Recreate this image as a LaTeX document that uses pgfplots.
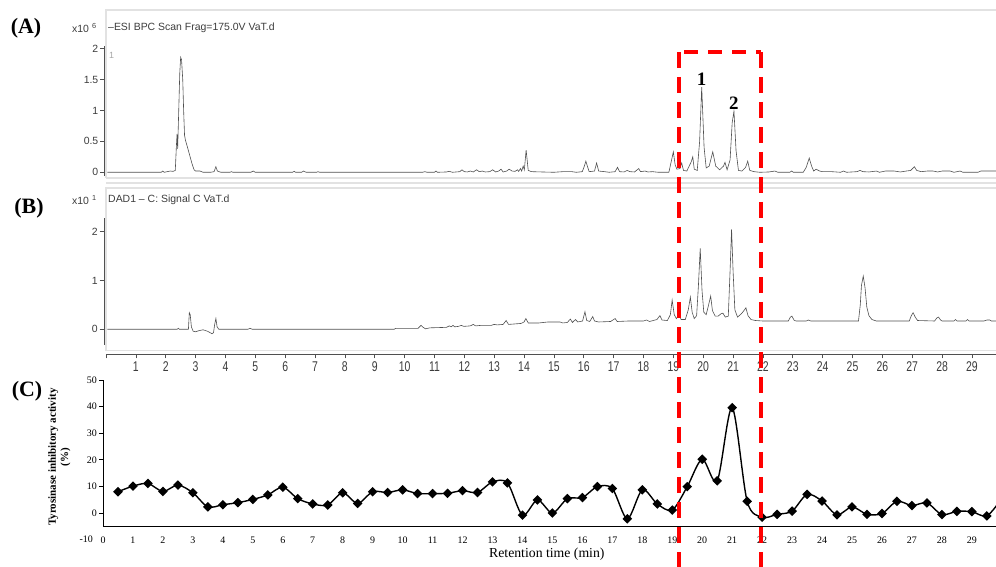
\documentclass[border=0pt]{standalone}
\usepackage{fontspec}
\setmainfont{Liberation Serif}
\setsansfont{Liberation Sans}
\usepackage{pgfplots}
\pgfplotsset{compat=1.18}
\definecolor{tg}{HTML}{3C3C3C}
\definecolor{trace}{HTML}{505050}
\definecolor{framec}{HTML}{E2E2E2}
\definecolor{boxred}{HTML}{FF0000}

\begin{document}
\begin{tikzpicture}[x=1bp,y=1bp]
\path[use as bounding box] (0,0) rectangle (996,567);

% light instrument frames
\draw[framec, line width=1.6bp] (106,389) -- (106,557) -- (997,557);
\draw[framec, line width=1.6bp] (106,389) -- (997,389);
\draw[framec, line width=1.6bp] (106,384) -- (997,384);
\draw[framec, line width=1.6bp] (106,216) -- (106,379) -- (997,379);
\draw[framec, line width=1.6bp] (106,216.5) -- (997,216.5);

% headers
\node[anchor=west, inner sep=0, text=tg, font=\fontsize{10.5}{12}\sffamily] at (72,539) {x10\hspace{3bp}\textsuperscript{6}};
\node[anchor=west, inner sep=0, text=tg, font=\fontsize{10.5}{12}\sffamily] at (108,539) {--ESI BPC Scan Frag=175.0V VaT.d};
\node[anchor=west, inner sep=0, text=tg, font=\fontsize{10.5}{12}\sffamily] at (72,367) {x10\hspace{3bp}\textsuperscript{1}};
\node[anchor=west, inner sep=0, text=tg, font=\fontsize{10.5}{12}\sffamily] at (108,367) {DAD1 -- C: Signal C VaT.d};
\node[anchor=west, inner sep=0, text=gray!70, font=\fontsize{9}{10}\sffamily] at (109,512) {1};

% panel letters
\node[font=\bfseries\fontsize{22}{24}\selectfont] at (26,539) {(A)};
\node[font=\bfseries\fontsize{22}{24}\selectfont] at (29,359) {(B)};
\node[font=\bfseries\fontsize{22}{24}\selectfont] at (27,176) {(C)};

% ---------------- Panel A ----------------
\begin{axis}[
  at={(104bp,391bp)}, anchor=south west, scale only axis,
  width=892bp, height=130bp,
  xmin=-0.067, xmax=29.806, ymin=-0.06, ymax=2.044,
  axis x line=none, axis y line*=left,
  y axis line style={-, trace, line width=0.8bp},
  ytick={0,0.5,1,1.5,2}, yticklabels={0,0.5,1,1.5,2},
  tick align=outside, major tick length=4bp,
  tick style={trace, line width=0.6bp},
  yticklabel style={font=\fontsize{10.5}{12}\sffamily, text=tg, inner sep=1.5bp},
]
\addplot[trace, line width=0.6bp] coordinates {
(0.05,0) (1.85,0) (1.9,0.02) (1.95,0) (2.05,0.01) (2.15,0.02) (2.25,0.015) (2.32,0.03)
(2.36,0.45) (2.38,0.62) (2.40,0.38) (2.43,0.9) (2.47,1.6) (2.50,1.86) (2.53,1.82) (2.57,1.5)
(2.60,1.0) (2.63,0.6) (2.66,0.52) (2.72,0.42) (2.8,0.28) (2.88,0.14) (2.95,0.04) (3.0,0.02)
(3.15,0.02) (3.25,0.0) (3.5,0.0) (3.62,0.01) (3.68,0.09) (3.73,0.02) (3.85,0.0) (4.15,0.0)
(4.2,0.01) (4.25,0) (4.85,0) (4.93,0.02) (5.0,0) (6.25,0) (6.3,0.015) (6.35,0) (6.55,0)
(6.62,0.02) (6.7,0) (7.05,0) (7.1,0.01) (7.15,0) (10.6,0) (10.68,0.01) (10.75,0) (11.0,0)
(11.05,0.02) (11.1,0) (11.4,0.005) (11.5,0.015) (11.6,0) (11.85,0.01) (11.92,0.04) (12.0,0.01)
(12.1,0.005) (12.2,0.02) (12.3,0.005) (12.41,0.04) (12.5,0.01) (12.6,0.02) (12.7,0.005)
(12.85,0.01) (12.95,0.04) (13.05,0.005) (13.15,0.02) (13.23,0.05) (13.3,0.005) (13.42,0.02)
(13.5,0.05) (13.6,0.02) (13.7,0.015) (13.78,0.04) (13.82,0.015) (13.88,0.06) (13.92,0.02)
(13.97,0.1) (14.01,0.04) (14.07,0.36) (14.14,0.03) (14.25,0.01) (14.6,0.005) (15.0,0.0)
(15.3,0.01) (15.6,0.01) (15.75,0.0) (15.95,0.01) (16.02,0.1) (16.07,0.18) (16.12,0.1)
(16.18,0.01) (16.36,0.02) (16.43,0.15) (16.5,0.02) (16.7,0.01) (16.85,0.0) (17.05,0.01)
(17.13,0.08) (17.2,0.01) (17.35,0.005) (17.45,0.03) (17.55,0.01) (17.7,0.005) (17.84,0.06)
(17.9,0.01) (18.05,0.02) (18.15,0.005) (18.3,0.01) (18.5,0.0) (18.85,0.0) (18.95,0.22)
(19.0,0.33) (19.06,0.12) (19.12,0.05) (19.22,0.06) (19.28,0.15) (19.34,0.03) (19.45,0.02)
(19.6,0.17) (19.65,0.25) (19.7,0.05) (19.8,0.03) (19.88,0.5) (19.95,1.38) (20.03,0.4)
(20.1,0.07) (20.2,0.1) (20.32,0.33) (20.42,0.1) (20.55,0.04) (20.68,0.1) (20.73,0.16)
(20.8,0.04) (20.9,0.2) (20.97,0.8) (21.03,0.99) (21.1,0.35) (21.18,0.03) (21.3,0.02)
(21.42,0.08) (21.49,0.18) (21.56,0.03) (21.7,0.01) (21.9,0.0) (22.2,0.005) (22.4,0.02)
(22.5,0.0) (22.9,0.0) (22.96,0.02) (23.02,0.0) (23.35,0.0) (23.45,0.08) (23.55,0.23) (23.63,0.1)
(23.7,0.02) (23.78,0.05) (23.9,0.02) (24.0,0.01) (24.3,0.01) (24.6,0.0) (24.7,0.02) (24.8,0.0)
(25.15,0.01) (25.25,0.03) (25.35,0.01) (25.55,0.005) (25.8,0.02) (25.9,0.0) (26.1,0.02)
(26.4,0.02) (26.6,0.005) (26.8,0.02) (26.95,0.03) (27.07,0.09) (27.15,0.03) (27.3,0.01)
(27.5,0.02) (27.7,0.02) (27.85,0.005) (28.0,0.02) (28.27,0.02) (28.4,0.0) (28.6,0.02)
(28.7,0.0) (29.2,0.0) (29.3,0.02) (29.8,0.02)
};
\node[font=\bfseries\fontsize{19}{20}\selectfont, anchor=south, inner sep=1.5bp] at (axis cs:19.95,1.38) {1};
\node[font=\bfseries\fontsize{19}{20}\selectfont, anchor=south, inner sep=1.5bp] at (axis cs:21.03,0.99) {2};
\end{axis}

% ---------------- Panel B ----------------
\begin{axis}[
  at={(104bp,213bp)}, anchor=south west, scale only axis,
  width=892bp, height=136bp,
  xmin=-0.067, xmax=29.806, ymin=-0.506, ymax=2.281,
  axis x line*=bottom, axis y line*=left,
  hide obscured x ticks=false, hide obscured y ticks=false,
  x axis line style={-, trace, line width=0.8bp, shorten <=2bp},
  y axis line style={-, trace, line width=0.8bp, shorten <=9bp},
  xtick={0,1,...,29},
  xticklabels={,1,2,3,4,5,6,7,8,9,10,11,12,13,14,15,16,17,18,19,20,21,22,23,24,25,26,27,28,29},
  ytick={0,1,2}, yticklabels={0,1,2},
  tick align=outside, major tick length=4.5bp,
  tick style={trace, line width=0.6bp},
  tick label style={font=\fontsize{10.5}{12}\sffamily, text=tg},
  xticklabel style={yscale=1.35, inner sep=2bp},
  yticklabel style={inner sep=1.5bp},
]
\addplot[trace, line width=0.6bp] coordinates {
(0.05,0) (2.38,0) (2.42,0.02) (2.46,0) (2.76,0) (2.79,0.34) (2.82,0.3) (2.86,0.05) (2.92,-0.04)
(3.0,-0.05) (3.1,-0.03) (3.25,-0.01) (3.4,-0.04) (3.55,-0.09) (3.6,-0.07) (3.64,0.1) (3.68,0.22)
(3.72,0.05) (3.78,0.0) (4.75,0) (4.82,0.02) (4.9,0) (9.65,0) (9.7,0.02) (10.45,0.02) (10.55,0.08)
(10.62,0.04) (10.7,0.01) (10.85,0.03) (11.4,0.04) (11.5,0.07) (11.56,0.05) (11.62,0.08)
(11.68,0.05) (11.8,0.06) (11.9,0.08) (11.98,0.06) (12.2,0.07) (12.3,0.1) (12.38,0.07)
(12.55,0.08) (12.9,0.08) (13.0,0.1) (13.1,0.09) (13.3,0.1) (13.4,0.18) (13.48,0.1) (13.9,0.12)
(14.0,0.15) (14.06,0.22) (14.14,0.13) (14.5,0.13) (14.8,0.15) (15.2,0.15) (15.3,0.13)
(15.45,0.14) (15.55,0.21) (15.62,0.14) (15.72,0.2) (15.8,0.15) (15.96,0.17) (16.04,0.36)
(16.1,0.18) (16.2,0.16) (16.3,0.26) (16.36,0.17) (16.5,0.15) (16.9,0.16) (17.05,0.22)
(17.12,0.16) (17.5,0.17) (18.0,0.17) (18.1,0.19) (18.2,0.16) (18.45,0.2) (18.55,0.28)
(18.62,0.19) (18.8,0.18) (18.9,0.3) (18.96,0.6) (19.03,0.3) (19.1,0.22) (19.2,0.3) (19.26,0.2)
(19.4,0.2) (19.5,0.4) (19.57,0.66) (19.63,0.35) (19.7,0.22) (19.78,0.28) (19.84,0.9) (19.9,1.66)
(19.96,0.8) (20.02,0.35) (20.1,0.3) (20.2,0.55) (20.25,0.68) (20.31,0.38) (20.4,0.27) (20.5,0.27)
(20.6,0.32) (20.66,0.33) (20.74,0.25) (20.84,0.27) (20.9,1.2) (20.95,2.05) (21.0,1.2) (21.06,0.4)
(21.15,0.25) (21.28,0.32) (21.36,0.38) (21.43,0.44) (21.5,0.28) (21.6,0.2) (21.75,0.18)
(22.0,0.17) (22.85,0.17) (22.92,0.25) (22.97,0.27) (23.05,0.18) (23.12,0.17) (23.45,0.17)
(23.52,0.19) (23.6,0.17) (25.2,0.17) (25.26,0.5) (25.3,0.9) (25.36,1.09) (25.42,0.85)
(25.48,0.45) (25.55,0.28) (25.65,0.2) (25.8,0.17) (26.9,0.17) (26.97,0.28) (27.03,0.34)
(27.1,0.25) (27.18,0.18) (27.75,0.17) (27.82,0.23) (27.88,0.25) (27.95,0.19) (28.0,0.17)
(28.4,0.17) (28.45,0.2) (28.5,0.17) (28.8,0.17) (28.85,0.2) (28.9,0.17) (29.4,0.17)
(29.5,0.19) (29.6,0.19) (29.65,0.17) (29.8,0.17)
};
\end{axis}

% ---------------- Panel C ----------------
\begin{axis}[
  at={(103bp,27.4bp)}, anchor=south west, scale only axis,
  width=893bp, height=159.6bp,
  xmin=0, xmax=29.806, ymin=-10, ymax=50,
  axis x line*=bottom, axis y line*=left,
  hide obscured x ticks=false, hide obscured y ticks=false,
  x axis line style={draw=none},
  y axis line style={-, black, line width=0.8bp, shorten <=13.3bp},
  xtick={0,1,...,29},
  xticklabels={0,1,2,3,4,5,6,7,8,9,10,11,12,13,14,15,16,17,18,19,20,21,22,23,24,25,26,27,28,29},
  ytick={0,10,...,50},
  yticklabels={0,10,20,30,40,50},
  extra y ticks={-10}, extra y tick labels={{\fontsize{10}{12}\selectfont -10}},
  extra y tick style={tick style={draw=none}, yticklabel style={xshift=-4bp}},
  xtick style={draw=none},
  ytick style={black, line width=0.6bp},
  tick align=outside, major tick length=4bp,
  tick label style={font=\fontsize{10}{12}\selectfont},
  xticklabel style={yshift=10bp},
  yticklabel style={inner sep=2bp},
  xlabel={Retention time (min)},
  xlabel style={at={(axis description cs:0.497,-0.094)}, anchor=center, font=\fontsize{13.8}{15}\selectfont},
  ylabel={Tyrosinase inhibitory activity\\(\%)},
  ylabel style={at={(axis description cs:-0.049,0.517)}, anchor=center, align=center, font=\bfseries\fontsize{11}{12.3}\selectfont},
]
\draw[black, line width=0.8bp] (axis cs:0,-5) -- (axis cs:29.806,-5);
\addplot[black, line width=1.4bp, smooth, tension=0.5,
  mark=square*, mark size=2.7bp, mark options={rotate=45, solid, fill=black}] coordinates {
(0.5,8) (1,10.1) (1.5,11.1) (2,8.1) (2.5,10.5) (3,7.6) (3.5,2.3) (4,3.1) (4.5,3.9) (5,5.1)
(5.5,6.8) (6,9.7) (6.5,5.4) (7,3.4) (7.5,3.0) (8,7.6) (8.5,3.6) (9,8) (9.5,7.7) (10,8.7)
(10.5,7.3) (11,7.3) (11.5,7.4) (12,8.4) (12.5,7.7) (13,11.7) (13.5,11.3) (14,-0.8) (14.5,4.9)
(15,0) (15.5,5.4) (16,5.8) (16.5,9.9) (17,9.2) (17.5,-2.2) (18,8.7) (18.5,3.4) (19,1.1)
(19.5,9.9) (20,20.2) (20.5,12.1) (21,39.6) (21.5,4.4) (22,-1.6) (22.5,-0.5) (23,0.7)
(23.5,7.0) (24,4.5) (24.5,-0.7) (25,2.3) (25.5,-0.5) (26,-0.2) (26.5,4.4) (27,2.8) (27.5,3.8)
(28,-0.6) (28.5,0.6) (29,0.5) (29.5,-1.1) (30,5.5)
};
\end{axis}

% red dashed highlight box
\draw[boxred, line width=4bp, dash pattern=on 16bp off 9bp] (679.3,515) -- (679.3,0);
\draw[boxred, line width=4bp, dash pattern=on 14bp off 10bp] (684,515) -- (761,515);
\draw[boxred, line width=4bp, dash pattern=on 16bp off 9bp] (761,515) -- (761,0);
\end{tikzpicture}
\end{document}
